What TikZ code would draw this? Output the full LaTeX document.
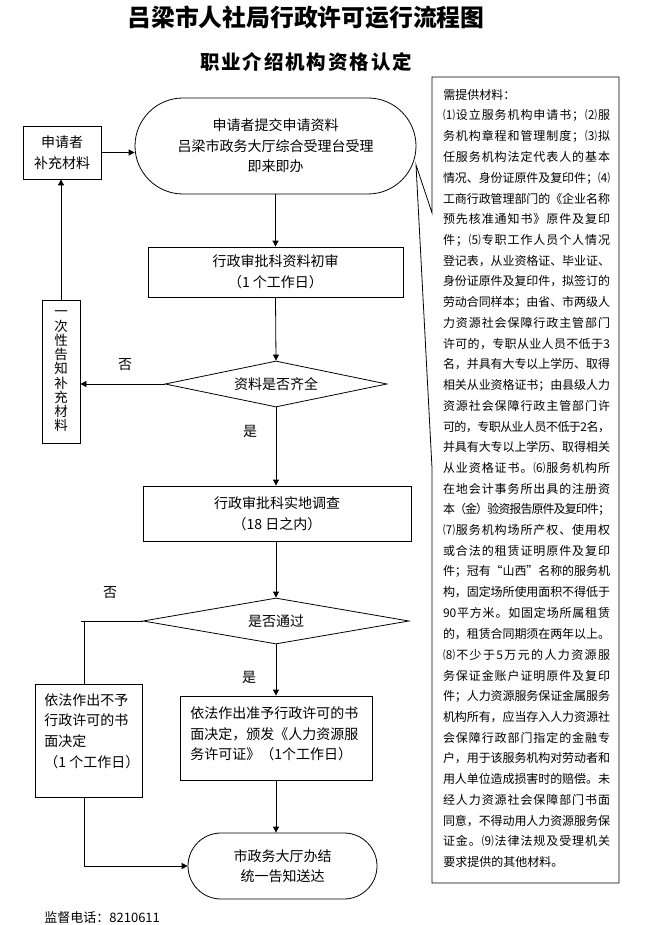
\documentclass[tikz,border=0pt]{standalone}
\usepackage{fontspec}
\setmainfont{Noto Sans CJK SC}
\usetikzlibrary{arrows.meta,shapes.geometric,calc}
\def\jlfirst#1{#1\jlrest}
\def\jlrest#1{\ifx\relax#1\else\hskip 0pt plus 1fil minus 1.5pt\relax#1\expandafter\jlrest\fi}
\newcommand\spreadtxt[2]{\makebox[#1][s]{\jlfirst#2\relax}}
\newcommand\jl[1]{\spreadtxt{167pt}{#1}}
\newcommand\flowfont{\fontsize{14}{20.6}\selectfont}
\newcommand\notefont{\fontsize{12}{20.73}\selectfont}
\begin{document}
\begin{tikzpicture}[x=1pt,y=-1pt,line width=0.8pt,
  arr/.style={-{Triangle[length=6pt,width=6pt]}},
  stepbox/.style={draw, rectangle, inner sep=0pt, align=center, font=\flowfont},
  term/.style={stepbox, rounded corners=#1},
  decision/.style={draw, diamond, shape aspect=5, inner sep=0pt, font=\flowfont},
  lbl/.style={font=\flowfont, inner sep=0pt},
  note/.style={font=\notefont, inner sep=0pt},
  txt/.style={font=\flowfont, inner sep=0pt, align=left, anchor=west}]
\useasboundingbox (0,0) rectangle (654,925);
\fill[white] (0,0) rectangle (654,925);
% titles
\node[font=\fontsize{23.8}{26}\selectfont\bfseries, inner sep=0pt] (title) at (306,17) {吕梁市人社局行政许可运行流程图};
\node[font=\fontsize{19.5}{22}\selectfont\bfseries, inner sep=0pt] (subtitle) at (306,62) {\spreadtxt{212pt}{职业介绍机构资格认定}};
% flow nodes
\node[stepbox, minimum width=78pt, minimum height=53pt] (sup) at (62,152.5) {申请者\\补充材料};
\node[term=48pt, minimum width=281pt, minimum height=96pt] (start) at (275.5,146) {申请者提交申请资料\\吕梁市政务大厅综合受理台受理\\即来即办};
\node[stepbox, minimum width=255pt, minimum height=50pt] (rev1) at (275.5,272) {行政审批科资料初审\\（1 个工作日）};
\node[stepbox, minimum width=38pt, minimum height=143pt, font=\fontsize{13.5}{14.25}\selectfont] (notice) at (61,371.5) {一\\次\\性\\告\\知\\补\\充\\材\\料};
\node[decision, minimum width=222pt, minimum height=46pt] (d1) at (276,384) {资料是否齐全};
\node[stepbox, minimum width=268pt, minimum height=55pt] (rev2) at (277,513.5) {行政审批科实地调查\\（18 日之内）};
\node[decision, minimum width=266pt, minimum height=46pt] (d2) at (276,621) {是否通过};
\node[stepbox, minimum width=107pt, minimum height=113pt] (deny) at (88.5,740.5) {};
\node[txt] (denyt) at (44,731) {依法作出不予\\行政许可的书\\面决定\\（1 个工作日）};
\node[stepbox, minimum width=192pt, minimum height=84pt] (grant) at (276,738) {};
\node[txt] (grantt) at (190,734) {依法作出准予行政许可的书\\面决定，颁发《人力资源服\\务许可证》（1个工作日）};
\node[term=33pt, minimum width=189pt, minimum height=66pt] (end) at (282.5,866) {市政务大厅办结\\统一告知送达};
% labels
\node[lbl] (no1) at (125,365) {否};
\node[lbl] (yes1) at (250,431) {是};
\node[lbl] (no2) at (110,593) {否};
\node[lbl] (yes2) at (249,677) {是};
\node[anchor=west, inner sep=0pt, font=\fontsize{13}{15}\selectfont] (tel) at (44,918) {监督电话：8210611};
% connectors
\draw[arr] (sup.east) -- (sup.east -| start.west);
\draw[arr] (start.south) -- (rev1.north);
\draw[arr] (rev1.south) -- (d1.north);
\draw[arr] (d1.west) -- (d1.west -| notice.east);
\draw[arr] (notice.north) -- (notice.north |- sup.south);
\draw[arr] (d1.south) -- (d1.south |- rev2.north);
\draw[arr] (rev2.south -| d2.north) -- (d2.north);
\coordinate (nb) at (84,621);
\coordinate (nbx) at (81,621);
\draw (d2.west) -- (nbx);
\draw (nb) -- (nb |- deny.north);
\draw[arr] (d2.south) -- (grant.north);
\draw[arr] (grant.south) -- (grant.south |- end.north);
\draw[arr] (nb |- deny.south) -- (nb |- end.west) -- (end.west);
% callout box
\coordinate (apex) at (416,165);
\coordinate (c1) at (432,213);
\coordinate (c2) at (432,468);
\draw[line width=0.8pt] (c1) -- (432,77) -- (619,77) -- (619,883) -- (432,883) -- (c2) -- (apex) -- cycle;
\node[note, anchor=west] (n1) at (443,95) {需提供材料：};
\node[note] (n2) at (526.5,115.73) {\jl{⑴设立服务机构申请书；⑵服}};
\node[note] (n3) at (526.5,136.46) {\jl{务机构章程和管理制度；⑶拟}};
\node[note] (n4) at (526.5,157.19) {\jl{任服务机构法定代表人的基本}};
\node[note] (n5) at (526.5,177.92) {\jl{情况、身份证原件及复印件；⑷}};
\node[note] (n6) at (526.5,198.65) {\jl{工商行政管理部门的《企业名称}};
\node[note] (n7) at (526.5,219.38) {\jl{预先核准通知书》原件及复印}};
\node[note] (n8) at (526.5,240.11) {\jl{件；⑸专职工作人员个人情况}};
\node[note] (n9) at (526.5,260.84) {\jl{登记表，从业资格证、毕业证、}};
\node[note] (n10) at (526.5,281.57) {\jl{身份证原件及复印件，拟签订的}};
\node[note] (n11) at (526.5,302.30) {\jl{劳动合同样本；由省、市两级人}};
\node[note] (n12) at (526.5,323.03) {\jl{力资源社会保障行政主管部门}};
\node[note] (n13) at (526.5,343.76) {\jl{许可的，专职从业人员不低于3}};
\node[note] (n14) at (526.5,364.49) {\jl{名，并具有大专以上学历、取得}};
\node[note] (n15) at (526.5,385.22) {\jl{相关从业资格证书；由县级人力}};
\node[note] (n16) at (526.5,405.95) {\jl{资源社会保障行政主管部门许}};
\node[note] (n17) at (526.5,426.68) {\jl{可的，专职从业人员不低于2名，}};
\node[note] (n18) at (526.5,447.41) {\jl{并具有大专以上学历、取得相关}};
\node[note] (n19) at (526.5,468.14) {\jl{从业资格证书。⑹服务机构所}};
\node[note] (n20) at (526.5,488.87) {\jl{在地会计事务所出具的注册资}};
\node[note] (n21) at (526.5,509.60) {\jl{本（金）验资报告原件及复印件；}};
\node[note] (n22) at (526.5,530.33) {\jl{⑺服务机构场所产权、使用权}};
\node[note] (n23) at (526.5,551.06) {\jl{或合法的租赁证明原件及复印}};
\node[note] (n24) at (526.5,571.79) {\jl{件；冠有“山西”名称的服务机}};
\node[note] (n25) at (526.5,592.52) {\jl{构，固定场所使用面积不得低于}};
\node[note] (n26) at (526.5,613.25) {\jl{{90}平方米。如固定场所属租赁}};
\node[note] (n27) at (526.5,633.98) {\jl{的，租赁合同期须在两年以上。}};
\node[note] (n28) at (526.5,654.71) {\jl{⑻不少于5万元的人力资源服}};
\node[note] (n29) at (526.5,675.44) {\jl{务保证金账户证明原件及复印}};
\node[note] (n30) at (526.5,696.17) {\jl{件；人力资源服务保证金属服务}};
\node[note] (n31) at (526.5,716.90) {\jl{机构所有，应当存入人力资源社}};
\node[note] (n32) at (526.5,737.63) {\jl{会保障行政部门指定的金融专}};
\node[note] (n33) at (526.5,758.36) {\jl{户，用于该服务机构对劳动者和}};
\node[note] (n34) at (526.5,779.09) {\jl{用人单位造成损害时的赔偿。未}};
\node[note] (n35) at (526.5,799.82) {\jl{经人力资源社会保障部门书面}};
\node[note] (n36) at (526.5,820.55) {\jl{同意，不得动用人力资源服务保}};
\node[note] (n37) at (526.5,841.28) {\jl{证金。⑼法律法规及受理机关}};
\node[note, anchor=west] (n38) at (443,862.01) {要求提供的其他材料。};
\end{tikzpicture}
\end{document}
